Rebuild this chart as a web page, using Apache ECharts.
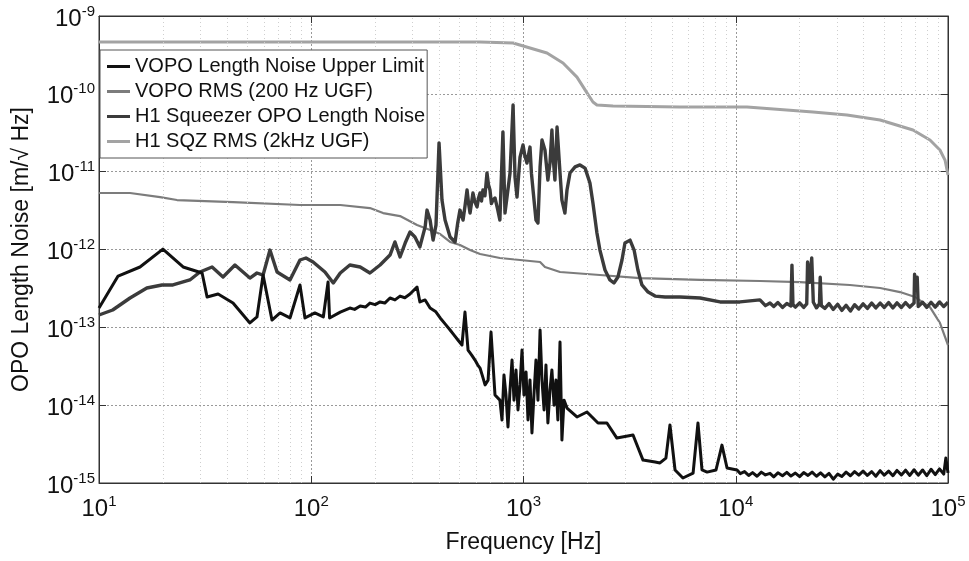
<!DOCTYPE html>
<html>
<head>
<meta charset="utf-8">
<script src="https://cdn.jsdelivr.net/npm/echarts@6/dist/echarts.min.js"></script>
<style>
  html, body { margin: 0; padding: 0; background: #fff; }
  #chart { width: 969px; height: 561px; }
</style>
</head>
<body>
<div id="chart"></div>
<script>
// [frequency Hz, amplitude m/sqrt(Hz)]
const vopoLimit = [
  [10,1.77e-13],[12.3,4.56e-13],[15.6,5.96e-13],[20,1.01e-12],[24.9,5.96e-13],[30.6,4.99e-13],
  [32.3,2.45e-13],[36.4,2.68e-13],[42.8,2.05e-13],[51.4,1.14e-13],[55.5,1.36e-13],[59.3,4.70e-13],
  [65.3,1.24e-13],[71.3,1.53e-13],[79.4,1.32e-13],[88.5,3.50e-13],[93.4,1.32e-13],[104,1.53e-13],
  [114,1.36e-13],[120,3.82e-13],[122,1.32e-13],[137,1.57e-13],[152,1.77e-13],[160,1.70e-13],[170,1.88e-13],
  [180,1.82e-13],[189,2.05e-13],[200,1.96e-13],[211,2.12e-13],[222,2.05e-13],[235,2.38e-13],[248,2.25e-13],
  [262,2.52e-13],[276,2.40e-13],[292,2.68e-13],[315,3.30e-13],
  [325,2.12e-13],[344,2.25e-13],[363,1.77e-13],[385,1.60e-13],[405,1.32e-13],[428,1.10e-13],[451,9.24e-14],
  [470,8.0e-14],[491,6.87e-14],
  [513,5.93e-14],[530,1.57e-13],[548,5.11e-14],[570,4.4e-14],[591,3.80e-14],[608,3.3e-14],[624,3.00e-14],
  [640,2.4e-14],[659,1.82e-14],
  [681,2.10e-14],[703,8.71e-14],[734,1.35e-14],[774,1.16e-14],[792,6.45e-15],[809,2.44e-14],
  [827,1.35e-14],[845,5.24e-15],[864,1.57e-14],[883,3.80e-14],[902,1.16e-14],[922,2.83e-14],
  [942,8.67e-15],[963,1.82e-14],[984,5.11e-14],[1005,1.35e-14],[1028,2.67e-14],[1050,6.45e-15],
  [1073,2.10e-14],[1096,4.39e-15],[1120,1.35e-14],[1145,3.80e-14],[1170,1.16e-14],[1197,9.24e-14],
  [1222,2.10e-14],[1250,8.67e-15],[1276,3.28e-14],[1303,5.90e-15],[1333,1.57e-14],[1361,2.83e-14],
  [1393,1.00e-14],[1422,2.10e-14],[1452,6.45e-15],[1486,6.47e-14],[1517,3.56e-15],[1552,1.16e-14],
  [1603,9.19e-15],[1786,7.05e-15],[1991,8.17e-15],[2244,5.90e-15],[2472,5.90e-15],[2754,3.78e-15],
  [3281,4.13e-15],[3656,1.97e-15],[4169,1.86e-15],[4395,1.81e-15],[4688,2.09e-15],[4898,5.56e-15],
  [5176,1.47e-15],[5637,1.16e-15],[6295,1.34e-15],[6637,5.90e-15],[6934,1.47e-15],[7328,1.38e-15],
  [8072,1.47e-15],[8610,3.07e-15],[9099,1.56e-15],[10140,1.47e-15],
  [10500,1.32e-15],[11000,1.40e-15],[11500,1.25e-15],[12000,1.36e-15],[12600,1.22e-15],
  [13200,1.38e-15],[13800,1.27e-15],[14500,1.33e-15],[15100,1.20e-15],[15800,1.35e-15],
  [16600,1.24e-15],[17400,1.37e-15],[18200,1.23e-15],[19100,1.34e-15],[20000,1.21e-15],
  [20900,1.36e-15],[21900,1.25e-15],[22900,1.38e-15],[24000,1.22e-15],[25100,1.35e-15],
  [26300,1.20e-15],[27500,1.33e-15],[28800,1.12e-15],[30200,1.30e-15],[31600,1.21e-15],
  [33100,1.38e-15],[34700,1.24e-15],[36300,1.40e-15],[38000,1.26e-15],[39800,1.42e-15],
  [41700,1.25e-15],[43700,1.40e-15],[45700,1.22e-15],[47900,1.44e-15],[50100,1.26e-15],
  [52500,1.42e-15],[55000,1.24e-15],[57500,1.45e-15],[60300,1.27e-15],[63100,1.46e-15],
  [66100,1.25e-15],[69200,1.48e-15],[72400,1.26e-15],[75900,1.47e-15],[79400,1.24e-15],
  [83200,1.50e-15],[87100,1.28e-15],[91200,1.52e-15],[95500,1.30e-15],[97700,2.10e-15],
  [100000,1.35e-15]
];

const vopoRms = [
  [10,5.32e-12],[14,5.32e-12],[19.4,4.72e-12],[23.3,4.32e-12],[42.8,4.07e-12],[88.5,3.73e-12],
  [137,3.73e-12],[189,3.41e-12],[218,2.94e-12],[262,2.69e-12],[315,2.06e-12],[363,1.78e-12],
  [405,1.58e-12],[451,1.25e-12],[502,1.14e-12],[560,9.84e-13],[624,8.75e-13],[774,7.78e-13],
  [963,7.33e-13],[1197,6.91e-13],[1262,5.96e-13],[1486,5.14e-13],[2291,4.70e-13],[3540,4.30e-13],
  [6792,4.06e-13],[13000,3.94e-13],[20090,3.82e-13],[34510,3.50e-13],[47860,3.20e-13],
  [59430,2.84e-13],[69980,2.45e-13],[82220,1.82e-13],[91620,1.14e-13],[96820,7.52e-14],
  [100000,5.93e-14]
];

const h1OpoNoise = [
  [10,1.44e-13],[11.6,1.67e-13],[14,2.38e-13],[16.8,3.20e-13],[19.8,3.50e-13],[22.3,3.50e-13],
  [26.8,4.06e-13],[29.9,5.14e-13],[34.1,5.96e-13],[38.4,4.44e-13],[43.7,6.32e-13],[51.4,4.30e-13],
  [55.5,4.99e-13],[59.3,4.70e-13],[63.9,9.84e-13],[69,5.14e-13],[79.4,4.06e-13],[88.5,7.33e-13],
  [94.4,7.78e-13],[102,6.91e-13],[116,5.14e-13],[127,3.71e-13],[137,4.99e-13],[152,6.32e-13],
  [170,5.96e-13],[189,4.99e-13],[211,6.32e-13],[235,8.49e-13],[248,1.25e-12],[262,8.01e-13],
  [277,1.21e-12],[292,1.68e-12],[308,1.45e-12],[325,1.08e-12],[344,1.95e-12],[351,3.21e-12],
  [363,2.39e-12],[375,1.32e-12],[387,2.06e-12],[400,2.34e-11],[413,4.32e-12],[427,2.39e-12],
  [451,1.45e-12],[476,1.25e-12],[490,2.2e-12],[502,3.21e-12],[519,2.39e-12],[530,3.6e-12],[542,5.81e-12],
  [551,3.9e-12],[560,2.94e-12],
  [578,5.32e-12],[590,4.1e-12],[604,3.52e-12],[614,4.6e-12],[624,5.32e-12],[634,4.2e-12],[644,5.81e-12],
  [658,4.9e-12],[673,9.62e-12],[684,6.8e-12],[695,5.81e-12],[706,3.9e-12],
  [718,4.32e-12],[734,4.59e-12],[755,3.3e-12],[774,2.39e-12],[800,3.24e-11],[818,2.94e-12],[840,5.2e-12],[864,9.62e-12],
  [893,7.18e-11],[912,8.5e-12],[932,4.72e-12],[948,8.8e-12],[963,1.54e-11],[995,2.20e-11],[1015,1.6e-11],[1038,1.29e-11],[1073,2.07e-11],
  [1090,9.5e-12],[1109,5.81e-12],[1145,2.39e-12],[1170,2.19e-12],[1197,1.15e-11],[1222,2.55e-11],[1262,1.90e-11],
  [1303,7.82e-12],[1333,1.29e-11],[1361,3.43e-11],[1380,1.5e-11],[1406,7.82e-12],[1439,3.75e-11],[1486,9.62e-12],
  [1517,4.32e-12],[1567,2.94e-12],[1603,5.81e-12],[1656,9.62e-12],[1750,1.15e-11],[1845,1.22e-11],
  [1950,1.11e-11],[2056,7.15e-12],[2124,3.96e-12],[2218,1.63e-12],[2291,9.84e-13],[2421,5.45e-13],
  [2553,4.06e-13],[2667,3.71e-13],[2786,4.44e-13],[2911,7.33e-13],[3006,1.21e-12],[3177,1.32e-12],
  [3319,9.84e-13],[3459,5.45e-13],[3614,3.50e-13],[3864,2.84e-13],[4169,2.52e-13],[4645,2.45e-13],
  [5458,2.45e-13],[6792,2.38e-13],[8433,2.12e-13],[10470,2.12e-13],[13000,2.25e-13],
  [13800,1.90e-13],[14500,2.05e-13],[15100,1.85e-13],[15800,2.08e-13],[16600,1.80e-13],
  [17400,2.02e-13],[18200,1.88e-13],[18400,6.30e-13],[18600,1.95e-13],[19100,1.82e-13],
  [20000,2.06e-13],[20900,1.80e-13],[21600,2.00e-13],[21800,6.90e-13],[22300,3.80e-13],
  [22800,7.80e-13],[23200,2.10e-13],[24000,1.78e-13],[24800,2.00e-13],[25000,4.40e-13],
  [25300,1.90e-13],[26300,1.75e-13],[27500,2.02e-13],[28800,1.70e-13],[30200,1.98e-13],
  [31600,1.65e-13],[33100,1.92e-13],[34700,1.62e-13],[36300,1.95e-13],[38000,1.72e-13],
  [39800,2.00e-13],[41700,1.75e-13],[43700,2.05e-13],[45700,1.78e-13],[47900,2.05e-13],
  [50100,1.80e-13],[52500,2.08e-13],[55000,1.78e-13],[57500,2.06e-13],[60300,1.80e-13],
  [63100,2.08e-13],[66100,1.82e-13],[69200,2.05e-13],[69600,4.80e-13],[70600,3.20e-13],
  [71600,4.40e-13],[72400,1.85e-13],[75900,2.10e-13],[79400,1.80e-13],[83200,2.10e-13],
  [87100,1.82e-13],[91200,2.12e-13],[95500,1.85e-13],[100000,2.10e-13]
];

const h1SqzRms = [
  [10,4.63e-10],[624,4.63e-10],[893,4.50e-10],[1073,3.88e-10],[1290,3.35e-10],[1535,2.49e-10],
  [1786,1.64e-10],[1991,1.03e-10],[2124,7.85e-11],[2218,7.18e-11],[2642,6.98e-11],[5458,6.78e-11],
  [11300,6.78e-11],[23110,5.85e-11],[33420,5.35e-11],[47860,4.61e-11],[68390,3.43e-11],
  [82220,2.55e-11],[91620,1.90e-11],[96820,1.41e-11],[100000,9.06e-12]
];

const seriesNames = [
  'VOPO Length Noise Upper Limit',
  'VOPO RMS (200 Hz UGF)',
  'H1 Squeezer OPO Length Noise',
  'H1 SQZ RMS (2kHz UGF)'
];

const FONT = 'Liberation Sans, Arial, Helvetica, sans-serif';

// minor decade gridlines (2..9 x 10^n) for both log axes
const minorX = [];
for (let e = 1; e < 5; e++) for (let k = 2; k <= 9; k++) minorX.push(k * Math.pow(10, e));
const minorY = [];
for (let e = -15; e < -9; e++) for (let k = 2; k <= 9; k++) minorY.push(+(k * Math.pow(10, e)).toPrecision(3));

function powLabel(v) {
  const e = Math.round(Math.log10(v));
  return '{b|10}{s|' + e + '}';
}
const tickRich = {
  b: { fontFamily: FONT, fontSize: 24, color: '#111', verticalAlign: 'bottom', lineHeight: 30 },
  s: { fontFamily: FONT, fontSize: 15, color: '#111', verticalAlign: 'bottom', lineHeight: 30, padding: [0, 0, 12, 0] }
};

const chart = echarts.init(document.getElementById('chart'), null, { renderer: 'canvas' });

const lineSeries = (name, data, color, width, z) => ({
  name, type: 'line', data, showSymbol: false, symbol: 'none', z,
  lineStyle: { color, width, join: 'round' }, itemStyle: { color },
  emphasis: { disabled: true }
});

chart.setOption({
  animation: false,
  backgroundColor: '#fff',
  grid: { left: 99, right: 21, top: 16, bottom: 78, show: true, borderColor: '#333', borderWidth: 1 },
  legend: {
    data: seriesNames,
    orient: 'vertical',
    left: 100, top: 50,
    padding: [4, 2, 4, 7],
    itemWidth: 23, itemHeight: 3, itemGap: 0,
    icon: 'rect',
    backgroundColor: '#fff',
    borderColor: '#555', borderWidth: 1,
    textStyle: { fontFamily: FONT, fontSize: 20, color: '#111', lineHeight: 25 },
    z: 10
  },
  xAxis: [{
    type: 'log', logBase: 10, min: 10, max: 100000, interval: 1,
    name: 'Frequency [Hz]', nameLocation: 'middle', nameGap: 48,
    nameTextStyle: { fontFamily: FONT, fontSize: 23, color: '#111' },
    axisLine: { show: true, lineStyle: { color: '#333' } },
    axisTick: { show: true, inside: true, length: 7, lineStyle: { color: '#333' } },
    axisLabel: { formatter: powLabel, rich: tickRich, margin: 8 },
    splitLine: { show: true, lineStyle: { color: '#999', type: [2, 2], width: 1 } }
  }, {
    type: 'log', logBase: 10, min: 10, max: 100000, interval: 1, position: 'top',
    axisLine: { show: true, lineStyle: { color: '#333' } },
    axisTick: { show: true, inside: true, length: 7, lineStyle: { color: '#333' } },
    axisLabel: { show: false }, splitLine: { show: false }
  }],
  yAxis: [{
    type: 'log', logBase: 10, min: 1e-15, max: 1e-9, interval: 1,
    name: 'OPO Length Noise [m/\u221A Hz]', nameLocation: 'middle', nameGap: 66,
    nameTextStyle: { fontFamily: FONT, fontSize: 23, color: '#111' },
    axisLine: { show: true, lineStyle: { color: '#333' } },
    axisTick: { show: true, inside: true, length: 7, lineStyle: { color: '#333' } },
    axisLabel: { formatter: powLabel, rich: tickRich, margin: 4 },
    splitLine: { show: true, lineStyle: { color: '#999', type: [2, 2], width: 1 } }
  }, {
    type: 'log', logBase: 10, min: 1e-15, max: 1e-9, interval: 1, position: 'right',
    axisLine: { show: true, lineStyle: { color: '#333' } },
    axisTick: { show: true, inside: true, length: 7, lineStyle: { color: '#333' } },
    axisLabel: { show: false }, splitLine: { show: false }
  }],
  series: [
    {
      name: 'minorGrid', type: 'line', data: [], z: 1, silent: true,
      markLine: {
        silent: true, symbol: 'none', animation: false,
        label: { show: false },
        lineStyle: { color: '#cfcfcf', type: [1, 3], width: 1 },
        emphasis: { disabled: true },
        data: minorX.map(v => ({ xAxis: v })).concat(minorY.map(v => ({ yAxis: v })))
      }
    },
    lineSeries(seriesNames[3], h1SqzRms, '#a3a3a3', 3, 3),
    lineSeries(seriesNames[1], vopoRms, '#7c7c7c', 2.2, 4),
    lineSeries(seriesNames[2], h1OpoNoise, '#3b3b3b', 3.4, 5),
    lineSeries(seriesNames[0], vopoLimit, '#111111', 3, 6)
  ]
});
</script>
</body>
</html>
